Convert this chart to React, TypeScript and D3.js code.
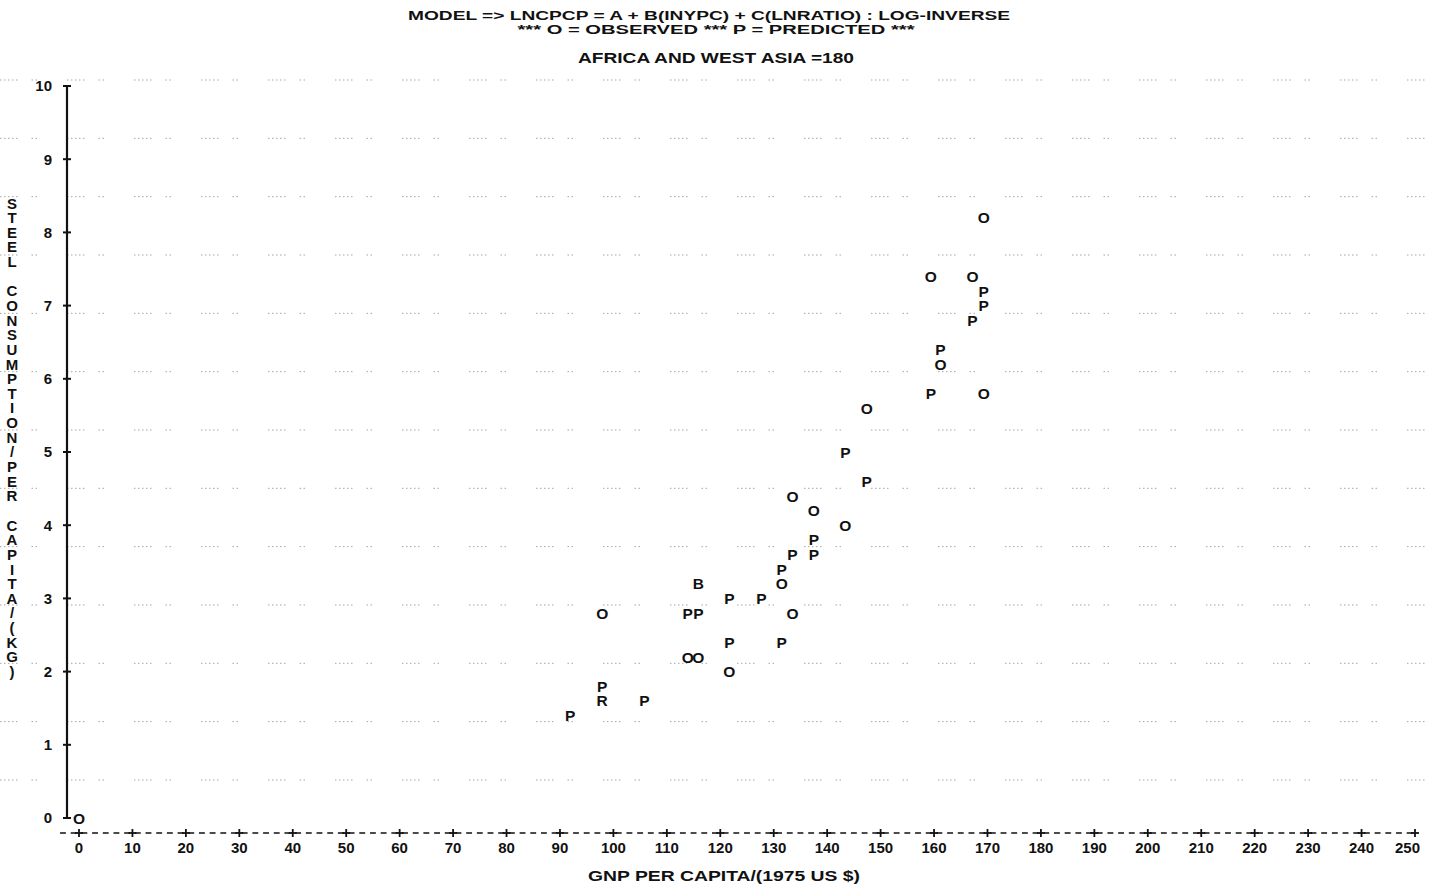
import React, {useEffect, useRef} from 'react'
import * as d3 from 'd3'

const width = 1437
const height = 890
const FONT = '"Liberation Sans", Arial, sans-serif'

// GNP per capita (x) and steel consumption per capita (y)
const observedGnp = [0, 97.9, 113.9, 115.9, 121.7, 131.5, 133.5, 133.5, 137.5, 143.4, 147.4, 161.2, 169.3, 159.4, 167.2, 169.3]
const observedSteel = [0, 2.8, 2.2, 2.2, 2.0, 3.2, 2.8, 4.4, 4.2, 4.0, 5.6, 6.2, 5.8, 7.4, 7.4, 8.2]

const predictedGnp = [91.9, 97.9, 105.8, 113.9, 115.9, 121.7, 121.7, 127.7, 131.5, 131.5, 133.5, 137.5, 137.5, 143.4, 147.4, 159.4, 161.2, 167.2, 169.3, 169.3]
const predictedSteel = [1.4, 1.8, 1.6, 2.8, 2.8, 3.0, 2.4, 3.0, 2.4, 3.4, 3.6, 3.6, 3.8, 5.0, 4.6, 5.8, 6.4, 6.8, 7.0, 7.2]

// overprinted cells
const otherGnp = [115.9, 97.9]
const otherSteel = [3.2, 1.6]
const otherChar = ['B', 'R']

const xTicks = d3.range(0, 251, 10)
const yTicks = d3.range(0, 11, 1)

const titleLines = [
  'MODEL => LNCPCP = A + B(INYPC) + C(LNRATIO) : LOG-INVERSE',
  '*** O = OBSERVED *** P = PREDICTED ***',
  'AFRICA AND WEST ASIA =180',
]
const yTitle = 'STEEL CONSUMPTION/PER CAPITA/(KG)'
const xTitle = 'GNP PER CAPITA/(1975 US $)'

const App = () => {
  const chartRef = useRef<SVGSVGElement>(null)

  useEffect(() => {
    drawChart()
  }, [])

  const drawChart = () => {
    const svg = d3.select(chartRef.current)
    svg.selectAll('*').remove()

    const x = d3.scaleLinear().domain([0, 250]).range([79, 1415])
    const y = d3.scaleLinear().domain([0, 10]).range([818, 86])

    svg.append('rect').attr('width', width).attr('height', height).attr('fill', '#fff')

    // faint dotted rules of the printer paper
    const rules = d3.range(80, 790, 58.33)
    svg.append('g')
      .selectAll('line')
      .data(rules)
      .enter()
      .append('line')
      .attr('x1', 0)
      .attr('x2', width)
      .attr('y1', d => d)
      .attr('y2', d => d)
      .attr('stroke', '#a5a5a5')
      .attr('stroke-width', 1)
      .attr('stroke-dasharray', '1.5 2.5 1.5 2.5 1.5 2.5 1.5 2.5 1.5 14 1.5 2.5 1.5 30')

    const txt = (g, s, tx, ty, size = 15) =>
      g.append('text')
        .attr('x', tx)
        .attr('y', ty)
        .attr('dy', '0.36em')
        .attr('text-anchor', 'middle')
        .style('font-family', FONT)
        .style('font-weight', 'bold')
        .style('font-size', `${size}px`)
        .attr('fill', '#111')
        .text(s)

    // titles
    const tg = svg.append('g')
    txt(tg, titleLines[0], 709, 15, 13.5).attr('textLength', 602).attr('lengthAdjust', 'spacingAndGlyphs')
    txt(tg, titleLines[1], 716, 29.5, 13.5).attr('textLength', 397).attr('lengthAdjust', 'spacingAndGlyphs')
    txt(tg, titleLines[2], 716, 58, 14.5).attr('textLength', 276).attr('lengthAdjust', 'spacingAndGlyphs')

    // y axis
    const ya = svg.append('g')
    ya.append('line')
      .attr('x1', 67).attr('x2', 67)
      .attr('y1', y(10)).attr('y2', y(0))
      .attr('stroke', '#111').attr('stroke-width', 2.2)
    yTicks.forEach(t => {
      ya.append('line')
        .attr('x1', 63).attr('x2', 71)
        .attr('y1', y(t)).attr('y2', y(t))
        .attr('stroke', '#111').attr('stroke-width', 2)
      txt(ya, String(t), 52, y(t)).attr('text-anchor', 'end')
    })
    yTitle.split('').forEach((c, i) => {
      txt(ya, c, 12, y(8.4 - i * 0.2))
    })

    // x axis
    const xa = svg.append('g')
    const period = (x(10) - x(0)) / 5
    xa.append('line')
      .attr('x1', x(0) - 2 * period + 2.4)
      .attr('x2', x(250))
      .attr('y1', 833).attr('y2', 833)
      .attr('stroke', '#111').attr('stroke-width', 1.6)
      .attr('stroke-dasharray', `${period - 4.8} 4.8`)
    xTicks.forEach(t => {
      xa.append('line')
        .attr('x1', x(t) - 4).attr('x2', x(t) + 4)
        .attr('y1', 833).attr('y2', 833)
        .attr('stroke', '#111').attr('stroke-width', 1.8)
      xa.append('line')
        .attr('x1', x(t)).attr('x2', x(t))
        .attr('y1', 829).attr('y2', 837)
        .attr('stroke', '#111').attr('stroke-width', 1.8)
      const label = txt(xa, String(t), x(t), 848)
      if (t === 250) label.attr('text-anchor', 'end').attr('x', x(t) + 5)
    })
    txt(xa, xTitle, 724, 876).attr('textLength', 272).attr('lengthAdjust', 'spacingAndGlyphs')

    // points
    const pg = svg.append('g')
    observedGnp.forEach((g, i) => txt(pg, 'O', x(g), y(observedSteel[i]), 15.5))
    predictedGnp.forEach((g, i) => txt(pg, 'P', x(g), y(predictedSteel[i]), 15.5))
    otherGnp.forEach((g, i) => txt(pg, otherChar[i], x(g), y(otherSteel[i]), 15.5))
  }

  return (
    <svg
      ref={chartRef}
      width={width}
      height={height}
      style={{position: 'absolute', left: 0, top: 0, display: 'block'}}
    ></svg>
  )
}

export default App
